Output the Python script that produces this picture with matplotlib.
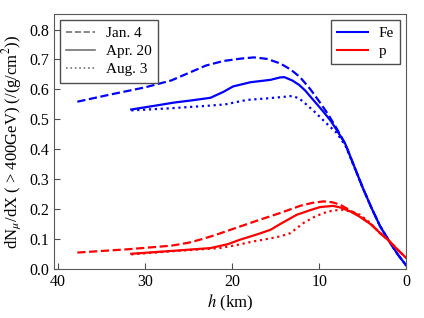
import numpy as np
import matplotlib
matplotlib.use('Agg')
import matplotlib.pyplot as plt
from matplotlib.lines import Line2D

plt.rcParams['font.family'] = ['Liberation Serif', 'DejaVu Serif']
plt.rcParams['mathtext.fontset'] = 'stix'

# Fe, Jan. 4 (dashed)
fe_jan_h = [37.8, 34, 30, 27, 25, 23, 21, 19, 17.5, 16, 14.5, 13.3, 12.2, 11, 10, 9, 8, 7, 6, 5, 4, 3, 2, 1, 0]
fe_jan_v = [0.559, 0.583, 0.607, 0.630, 0.655, 0.680, 0.695, 0.703, 0.707, 0.702, 0.687, 0.667, 0.641,
            0.600, 0.560, 0.518, 0.470, 0.418, 0.345, 0.272, 0.205, 0.143, 0.095, 0.05, 0.012]
# Fe, Apr. 20 (solid)
fe_apr_h = [31.6, 29, 26.7, 24.5, 22.5, 21, 19.9, 17.9, 15.6, 14.5, 14, 13.1, 12.3, 11.6, 10.3, 9.5, 8.7,
            8, 7, 6, 5, 4, 3, 2, 1, 0]
fe_apr_v = [0.533, 0.545, 0.556, 0.564, 0.572, 0.592, 0.610, 0.624, 0.632, 0.640, 0.641, 0.630, 0.615,
            0.596, 0.552, 0.525, 0.496, 0.465, 0.418, 0.345, 0.272, 0.205, 0.143, 0.095, 0.05, 0.012]
# Fe, Aug. 3 (dotted)
fe_aug_h = [31.6, 27.1, 23, 20.8, 18.3, 16, 14.5, 13.1, 12.3, 11.8, 10.7, 9.1, 8, 7, 6, 5, 4, 3, 2, 1, 0]
fe_aug_v = [0.530, 0.537, 0.545, 0.550, 0.565, 0.570, 0.574, 0.578, 0.570, 0.558, 0.530, 0.485, 0.455,
            0.413, 0.343, 0.271, 0.205, 0.143, 0.095, 0.05, 0.012]

# p, Jan. 4 (dashed)
p_jan_h = [37.8, 32, 27, 25, 23.7, 22, 20.2, 18.5, 16.8, 14.5, 12.2, 10.8, 9.5, 8.5, 7.6, 6.5, 5.3,
           4, 3, 2, 1, 0]
p_jan_v = [0.055, 0.066, 0.078, 0.088, 0.098, 0.113, 0.131, 0.148, 0.165, 0.187, 0.211, 0.221, 0.226,
           0.223, 0.215, 0.197, 0.176, 0.148, 0.120, 0.095, 0.065, 0.037]
# p, Apr. 20 (solid)
p_apr_h = [31.6, 26.7, 22.5, 20.5, 19.1, 17, 15.6, 14.5, 12.6, 11, 9.9, 8.4, 7.5, 6.4, 5.3,
           4, 3, 2, 1, 0]
p_apr_v = [0.051, 0.061, 0.070, 0.083, 0.098, 0.117, 0.131, 0.150, 0.181, 0.197, 0.207, 0.211, 0.205,
           0.192, 0.174, 0.148, 0.120, 0.095, 0.065, 0.037]
# p, Aug. 3 (dotted)
p_aug_h = [31.6, 27.1, 21.4, 19.5, 17.6, 15.5, 14.5, 13.3, 11.8, 10.5, 9.5, 8.5, 7.4, 6.3, 5.3, 4.5,
           4, 3, 2, 1, 0]
p_aug_v = [0.049, 0.059, 0.070, 0.080, 0.092, 0.103, 0.109, 0.120, 0.154, 0.175, 0.187, 0.195, 0.198,
           0.192, 0.181, 0.163, 0.150, 0.120, 0.095, 0.065, 0.037]

dates = ['Jan. 4', 'Apr. 20', 'Aug. 3']
styles = ['--', '-', ':']

fig = plt.figure(figsize=(4.24, 3.18), dpi=100)
ax = fig.add_axes([0.127, 0.154, 0.831, 0.802])

fe = [(fe_jan_h, fe_jan_v), (fe_apr_h, fe_apr_v), (fe_aug_h, fe_aug_v)]
pp = [(p_jan_h, p_jan_v), (p_apr_h, p_apr_v), (p_aug_h, p_aug_v)]
for (h, v), ls in zip(fe, styles):
    ax.plot(h, v, color='blue', ls=ls, lw=1.6)
for (h, v), ls in zip(pp, styles):
    ax.plot(h, v, color='red', ls=ls, lw=1.6)

ax.set_xlim(40.5, 0)
ax.set_ylim(0, 0.852)
ax.set_xticks([40, 30, 20, 10, 0])
ax.set_yticks(np.arange(0, 0.81, 0.1))
ax.yaxis.set_major_formatter(matplotlib.ticker.FormatStrFormatter('%.1f'))
ax.tick_params(direction='in', labelsize=11.5, color='0.3', length=4)
for s in ax.spines.values():
    s.set_color('0.35')
ax.set_xlabel('$h$ (km)', fontsize=12, labelpad=2)
ax.set_ylabel('dN$_{\\mu}$/dX ( > 400GeV) (/(g/cm$^2$))', fontsize=12, labelpad=4)

h1 = [Line2D([], [], color='0.45', ls=ls, lw=1.2) for ls in styles]
leg1 = ax.legend(h1, dates, loc='upper left', fontsize=11, fancybox=False,
                 edgecolor='0.3', framealpha=1, handlelength=1.9,
                 borderaxespad=0.4, labelspacing=0.3, handletextpad=0.7)
ax.add_artist(leg1)
h2 = [Line2D([], [], color=c, lw=1.5) for c in ['blue', 'red']]
ax.legend(h2, ['Fe', 'p'], loc='upper right', fontsize=11, fancybox=False,
          edgecolor='0.3', framealpha=1, handlelength=2.0,
          borderaxespad=0.4, labelspacing=0.3, handletextpad=0.7)

fig.savefig('out.png', dpi=100)
